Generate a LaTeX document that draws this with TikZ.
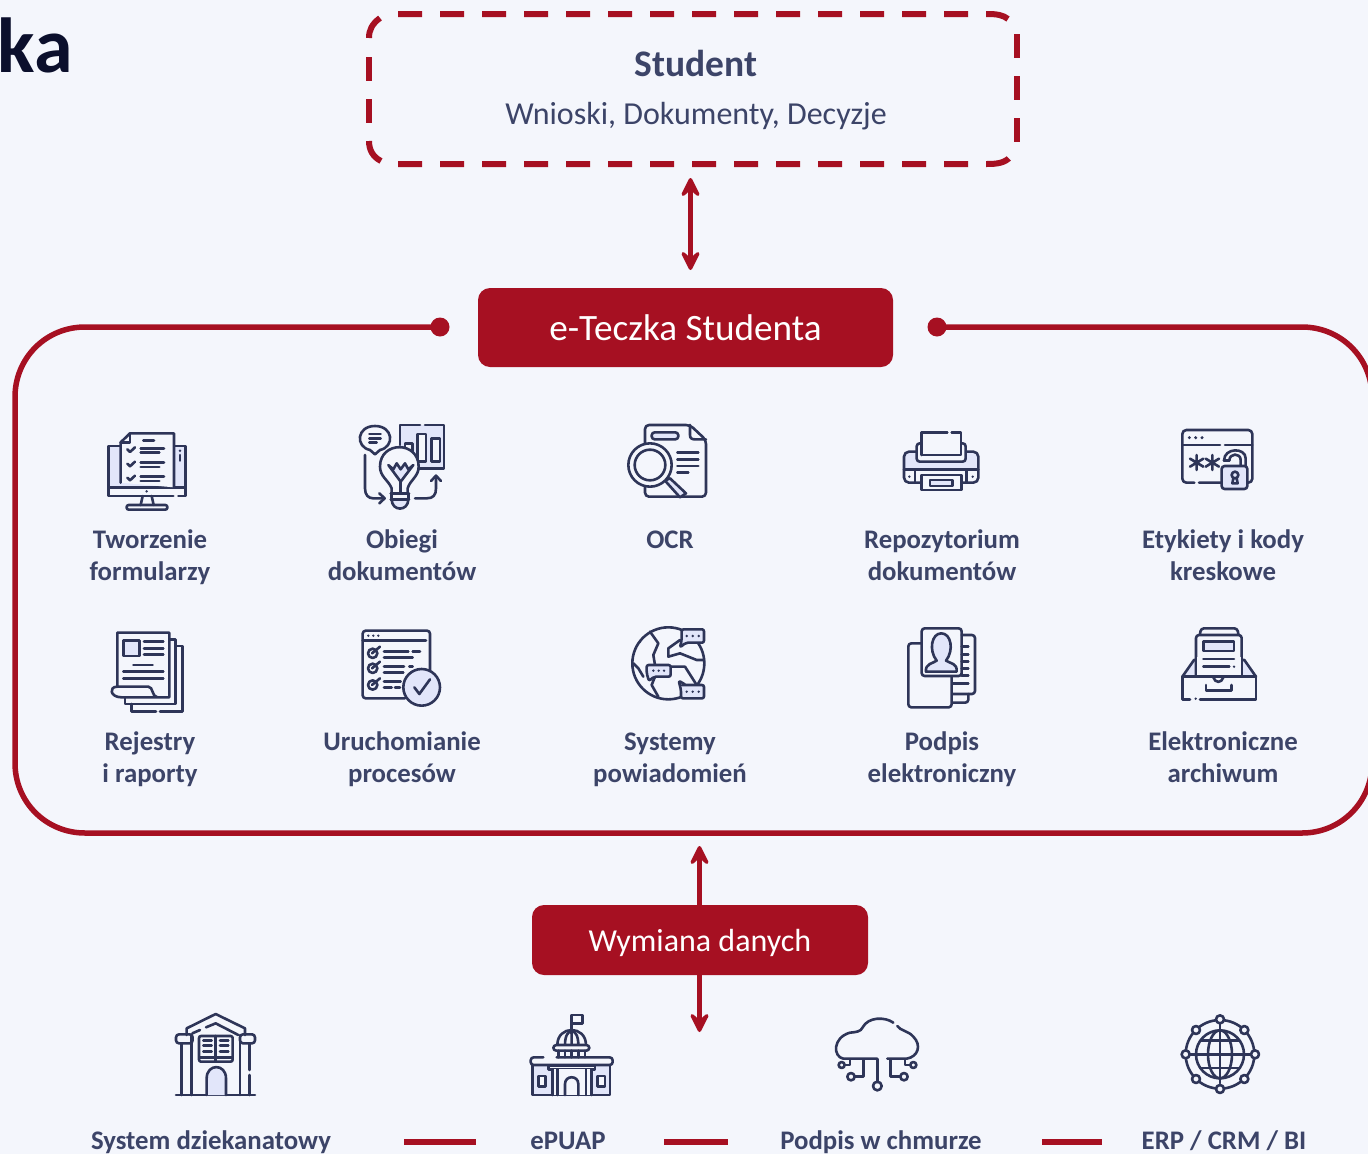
\documentclass[tikz,border=0pt]{standalone}
\usepackage{fontspec}
\setmainfont{Carlito}
\usetikzlibrary{arrows.meta}
\definecolor{bgc}{HTML}{F4F6FC}
\definecolor{redc}{HTML}{A61022}
\definecolor{txtc}{HTML}{3C4468}
\definecolor{icl}{HTML}{2E3558}
\definecolor{icf}{HTML}{E2E6FA}
\definecolor{navy}{HTML}{0B0F2C}
\tikzset{
 lbl/.style={text=txtc,font=\fontsize{26.8}{32}\selectfont\bfseries,align=center,inner sep=0pt},
 ic/.style={draw=icl,line width=2.6pt,line cap=round,line join=round},
 icb/.style={ic,fill=bgc},
 icq/.style={ic,fill=icf},
 za/.style={shift={(80,410)},scale=0.33333},
 zb/.style={shift={(600,410)},scale=0.33333},
 zc/.style={shift={(1000,410)},scale=0.33333},
 zd/.style={shift={(150,1000)},scale=0.33333},
 ze/.style={shift={(800,1000)},scale=0.33333},
 redbox/.style={fill=redc,text=white,rounded corners=12pt,inner sep=0pt},
 dbl/.style={draw=redc,line width=5pt,{Stealth[length=26pt,width=26pt,inset=12pt,round]}-{Stealth[length=26pt,width=26pt,inset=12pt,round]}},
 sgl/.style={draw=redc,line width=5pt,-{Stealth[length=26pt,width=26pt,inset=12pt,round]}},
 dashb/.style={draw=redc,line width=6pt,dash pattern=on 24pt off 18pt},
 solb/.style={draw=redc,line width=6pt},
 frame/.style={draw=redc,line width=5.5pt},
 sep/.style={draw=redc,line width=6pt},
}
\begin{document}
\begin{tikzpicture}[x=1pt,y=-1pt]
\useasboundingbox (0,0) rectangle (1368,1154);
\clip (0,0) rectangle (1368,1154);
\fill[bgc] (0,0) rectangle (1368,1154);
% title fragment
\node[anchor=base east,inner sep=0pt,text=navy,font=\fontsize{78}{78}\selectfont\bfseries] (title) at (73,72) {ka};
% student box
\draw[dashb] (398,14)--(987,14) .. controls (997,14) and (1003,15) .. (1008,19);
\draw[dashb] (1017,34)--(1017,150);
\draw[dashb] (398,164)--(987,164) .. controls (997,164) and (1005,163) .. (1010,157);
\draw[solb] (380,18) .. controls (372,24) and (369,30) .. (369,38);
\draw[dashb] (369,57)--(369,125);
\draw[solb] (369,141) .. controls (369,150) and (373,157) .. (381,161);
\node[text=txtc,font=\fontsize{37.5}{37.5}\selectfont\bfseries,inner sep=0pt] (student) at (696,63.5) {Student};
\node[text=txtc,font=\fontsize{32}{32}\selectfont,inner sep=0pt] (studentsub) at (696,116) {Wnioski, Dokumenty, Decyzje};
% central box
\node[redbox,minimum width=415pt,minimum height=79pt,font=\fontsize{37.2}{37.2}\selectfont] (teczka) at (685.5,327.5) {\raisebox{0pt}[25pt][0pt]{e-Teczka Studenta}};
\coordinate (a1) at (690.5,178);
\coordinate (a2) at (690.5,270);
\draw[dbl] (a1) -- (a2);
% frame
\coordinate (fl) at (440,327);
\coordinate (fr) at (937,327);
\draw[frame] (fl) -- (85,327) .. controls (46,327) and (15,358) .. (15,397) -- (15,763) .. controls (15,802) and (46,833) .. (85,833) -- (1302,833) .. controls (1341,833) and (1372,802) .. (1372,763) -- (1372,397) .. controls (1372,358) and (1341,327) .. (1302,327) -- (fr);
\fill[redc] (fl) circle[radius=9.5];
\fill[redc] (fr) circle[radius=9.5];
% labels
\node[lbl] (l11) at (150,558.5) {Tworzenie\strut\\formularzy\strut};
\node[lbl] (l12) at (402,558.5) {Obiegi\strut\\dokumentów\strut};
\node[lbl] (l13) at (670,558.5) {OCR\strut\\\strut};
\node[lbl] (l14) at (942,558.5) {Repozytorium\strut\\dokumentów\strut};
\node[lbl] (l15) at (1223,558.5) {Etykiety i kody\strut\\kreskowe\strut};
\node[lbl] (l21) at (150,760.5) {Rejestry\strut\\i raporty\strut};
\node[lbl] (l22) at (402,760.5) {Uruchomianie\strut\\procesów\strut};
\node[lbl] (l23) at (670,760.5) {Systemy\strut\\powiadomień\strut};
\node[lbl] (l24) at (942,760.5) {Podpis\strut\\elektroniczny\strut};
\node[lbl] (l25) at (1223,760.5) {Elektroniczne\strut\\archiwum\strut};
% exchange
\node[redbox,minimum width=336pt,minimum height=70pt,font=\fontsize{32}{32}\selectfont] (wym) at (700,940) {\raisebox{0pt}[23pt][0pt]{Wymiana danych}};
\coordinate (b1) at (699.5,846);
\coordinate (b2) at (699.5,1032);
\draw[sgl] (wym.north -| b1) -- (b1);
\draw[sgl] (wym.south -| b2) -- (b2);
% bottom labels
\node[lbl] (s1) at (211,1143.5) {System dziekanatowy\strut};
\node[lbl] (s2) at (568,1143.5) {ePUAP\strut};
\node[lbl] (s3) at (881,1143.5) {Podpis w chmurze\strut};
\node[lbl] (s4) at (1224,1143.5) {ERP / CRM / BI\strut};
\draw[sep] (404,1141.5) -- (476,1141.5);
\draw[sep] (664,1141.5) -- (728,1141.5);
\draw[sep] (1042,1141.5) -- (1102,1141.5);

% ---------- icon: monitor
\begin{scope}[za]
\fill[icf] (85,108) rectangle (317,232);
\draw[ic] (120,108)--(85,108)--(85,258)--(280,258) (295,258)--(317,258)--(317,108)--(285,108);
\draw[ic] (85,232)--(317,232);
\fill[icl] (200,244) circle[radius=4];
\draw[ic] (188,258)--(182,285) (215,258)--(221,285);
\draw[ic,rounded corners=2pt] (140,285) rectangle (262,299);
\draw[icb] (122,218)--(122,97)--(150,70)--(282,70)--(282,232);
\draw[ic] (150,72)--(150,97)--(122,97);
\draw[ic] (190,92)--(222,92);
\foreach \y in {0,43,85}{
 \draw[ic] (142,\y+118)--(150,\y+126)--(165,\y+112);
 \draw[ic] (182,\y+115)--(252,\y+115) (182,\y+128)--(238,\y+128);
}
\fill[icl] (300,122) circle[radius=4];
\draw[ic] (300,135)--(300,152);
\end{scope}
% ---------- icon: bulb
\begin{scope}[za]
\fill[icf] (960,45) rectangle (1092,175);
\draw[ic] (960,105)--(960,45)--(1020,45) (1035,45)--(1092,45)--(1092,175)--(1015,175);
\draw[icb] (1012,72) rectangle (1038,155);
\draw[icb] (1055,85) rectangle (1080,155);
\draw[icb] (975,100) rectangle (998,125);
\draw[icb] (885,133) -- (870,120) .. controls (825,110) and (830,48) .. (885,48) .. controls (940,48) and (945,110) .. (900,120) -- cycle;
\draw[ic] (868,72)--(902,72) (868,85)--(902,85) (868,98)--(890,98);
\draw[icb] (935,250) -- (935,235) .. controls (925,210) and (900,200) .. (900,170) .. controls (900,92) and (1016,92) .. (1016,170) .. controls (1016,200) and (990,210) .. (983,235) -- (983,250);
\draw[icq] (935,268) .. controls (935,305) and (985,305) .. (985,268) -- cycle;
\draw[ic] (932,250)--(987,250) (932,268)--(987,268) (935,250)--(935,268) (985,250)--(985,268);
\draw[icq] (925,165) -- (940,178) -- (950,160) -- (962,178) -- (975,160) -- (985,178) -- (1000,165) -- (962,215) -- cycle;
\draw[ic] (962,215)--(962,250);
\draw[ic] (855,135)--(855,235) .. controls (855,255) and (865,265) .. (880,265) -- (912,265);
\draw[ic] (898,250)--(914,265)--(898,280);
\draw[ic] (1005,265)--(1040,265) .. controls (1060,265) and (1068,255) .. (1068,235) -- (1068,198);
\draw[ic] (1053,213)--(1068,197)--(1083,213);
\end{scope}
% ---------- icon: registers
\begin{scope}[za]
\draw[ic] (287,708)--(308,708)--(308,905)--(240,905) (228,905)--(155,905)--(155,882);
\draw[ic] (268,688)--(287,688)--(287,882)--(135,882)--(135,865);
\draw[ic] (112,830)--(112,668)--(268,668)--(268,862)--(125,862) .. controls (90,862) and (85,830) .. (112,830) -- (205,830) .. controls (220,830) and (215,860) .. (232,862);
\draw[icq] (130,692) rectangle (178,738);
\draw[ic] (192,695)--(250,695) (192,715)--(250,715) (192,733)--(250,733) (160,765)--(218,765) (130,785)--(250,785) (130,805)--(250,805);
\end{scope}
% ---------- icon: checklist window
\begin{scope}[za]
\draw[ic,rounded corners=3pt] (1050,790)--(1050,662)--(848,662)--(848,865)--(975,865);
\draw[ic] (848,692)--(1038,692);
\foreach \x in {865,880,895}{\fill[icl] (\x,677) circle[radius=4];}
\foreach \y in {730,775,825}{
 \draw[ic] (878,\y) circle[radius=14];
 \draw[ic] (876,\y)--(900,\y-20);
}
\draw[ic] (912,725)--(985,725) (998,725)--(1020,725) (912,742)--(998,742) (912,770)--(972,770) (988,770)--(998,770) (912,787)--(970,787) (912,815)--(962,815) (912,832)--(935,832) (945,832)--(960,832);
\draw[icq] (1025,832) circle[radius=55];
\draw[ic] (1003,832)--(1018,852)--(1050,808);
\end{scope}
% ---------- icon: OCR
\begin{scope}[zb]
\draw[ic,rounded corners=4pt] (135,105)--(135,45)--(270,45)--(318,90)--(318,260)--(135,260)--(135,232);
\draw[ic] (270,45)--(270,75) .. controls (270,85) and (275,88) .. (285,88) -- (318,88);
\draw[icq,rounded corners=3pt] (155,67) rectangle (235,88);
\draw[ic] (232,128)--(295,128) (232,148)--(295,148) (232,168)--(295,168) (232,188)--(265,188);
\draw[icq] (195,212)--(210,205)--(258,250)--(240,262)--cycle;
\draw[icb] (150,165) circle[radius=65];
\draw[ic] (150,165) circle[radius=46];
\end{scope}
% ---------- icon: printer
\begin{scope}[zb]
\fill[icf,rounded corners=5pt] (912,125) rectangle (1135,190);
\fill[bgc] (914,180) rectangle (1133,216);
\draw[ic,rounded corners=5pt] (912,125) rectangle (1135,218);
\draw[ic] (912,178)--(1135,178) (945,178)--(945,218) (1100,178)--(1100,218);
\draw[icb,rounded corners=3pt] (950,100) -- (950,155) -- (1097,155) -- (1097,100) -- cycle;
\fill[bgc] (965,68) rectangle (1083,135);
\draw[ic] (965,135)--(965,68)--(1042,68) (1055,68)--(1083,68)--(1083,135)--(965,135);
\draw[icb] (965,195) rectangle (1085,240);
\draw[icq] (990,210) rectangle (1058,228);
\fill[icl] (928,200) circle[radius=4] (1118,200) circle[radius=4];
\end{scope}
% ---------- icon: world
\begin{scope}[zb]
\draw[ic] (205,760) circle[radius=108];
\draw[ic] (150,665)--(175,700)--(160,735)--(165,765);
\draw[ic] (240,690)--(205,715)--(205,740)--(240,730)--(290,750)--(312,750);
\draw[ic] (212,770)--(255,770)--(290,825)--(300,825);
\draw[ic] (165,800)--(155,825)--(175,860);
\draw[ic] (100,760)--(115,775)--(130,800);
\draw[icq,rounded corners=2pt] (245,658)--(312,658)--(312,698)--(258,698)--(240,712)--(245,690)--cycle;
\draw[icq,rounded corners=2pt] (140,765)--(212,765)--(212,800)--(162,800)--(147,813)--(140,790)--cycle;
\draw[icq,rounded corners=2pt] (243,825)--(258,825)--(236,812)--(243,840)--(243,865)--(312,865)--(312,825)--cycle;
\foreach \x/\y in {260/678,278/678,296/678,160/782,176/782,192/782,260/845,278/845,296/845}{\fill[icl] (\x,\y) circle[radius=4];}
\fill[icl] (120,695) circle[radius=4];
\end{scope}
% ---------- icon: signature document
\begin{scope}[zb]
\draw[ic,rounded corners=3pt] (965,700)--(925,700)--(925,892)--(1055,892)--(1055,800);
\draw[ic,rounded corners=3pt] (1085,675)--(1125,675)--(1125,852)--(1058,852);
\draw[ic,rounded corners=3pt] (1105,852)--(1105,878)--(1058,878);
\draw[ic,rounded corners=3pt] (965,798) rectangle (1085,655);
\foreach \y in {710,733,755,775,797}{\draw[ic] (1085,\y)--(1105,\y);}
\draw[ic] (1058,820)--(1105,820);
\draw[icq] (978,785) .. controls (975,760) and (1000,760) .. (1010,752) .. controls (985,720) and (995,670) .. (1024,670) .. controls (1053,670) and (1063,720) .. (1038,752) .. controls (1050,760) and (1073,760) .. (1070,785) -- cycle;
\end{scope}
% ---------- icon: lock window
\begin{scope}[zc]
\draw[ic,rounded corners=4pt] (665,218)--(597,218) (583,218)--(547,218)--(547,60)--(757,60)--(757,218)--(745,218);
\draw[ic] (547,105)--(660,105) (675,105)--(757,105);
\foreach \x in {568,587,606}{\fill[icl] (\x,83) circle[radius=5];}
\foreach \x in {590,637}{
 \draw[ic] (\x,135)--(\x,180) (\x-20,146)--(\x+20,170) (\x-20,170)--(\x+20,146);
}
\draw[ic] (672,152) .. controls (672,112) and (737,112) .. (737,145) -- (737,168);
\draw[ic] (688,152) .. controls (688,128) and (722,128) .. (722,150) -- (722,168);
\draw[ic] (672,152)--(688,152);
\draw[icq,rounded corners=3pt] (665,168) rectangle (742,237);
\draw[ic] (705,195) circle[radius=10];
\draw[ic] (700,205)--(697,220)--(713,220)--(710,205);
\end{scope}
% ---------- icon: archive
\begin{scope}[zc]
\draw[icq] (547,800)--(582,750)--(733,750)--(768,800)--cycle;
\draw[icb,rounded corners=3pt] (588,800)--(588,675)--(725,675)--(725,800);
\fill[bgc] (590,740) rectangle (723,800);
\draw[ic,rounded corners=3pt] (600,672)--(603,655)--(712,655)--(715,672);
\draw[icq] (610,695) rectangle (702,723);
\draw[ic] (610,747)--(702,747) (610,770)--(688,770);
\fill[icl] (702,770) circle[radius=4];
\draw[ic] (547,800)--(768,800)--(768,868)--(600,868) (570,868)--(547,868)--(547,800);
\fill[icl] (587,866) circle[radius=4];
\draw[ic] (640,802) .. controls (645,820) and (665,820) .. (670,802);
\draw[ic] (618,825)--(618,842)--(695,842)--(695,825);
\end{scope}
% ---------- icon: library
\begin{scope}[zd]
\draw[ic] (110,105)--(110,85)--(197,42)--(285,85)--(285,105);
\draw[ic] (127,100)--(150,90) (168,82)--(197,70)--(265,105);
\draw[ic] (78,285)--(315,285);
\draw[ic] (95,130)--(95,285) (125,105)--(125,285) (270,105)--(270,285) (298,130)--(298,210) (298,225)--(298,285);
\draw[ic,rounded corners=3pt] (78,103) rectangle (128,130);
\draw[ic,rounded corners=3pt] (270,103) rectangle (315,130);
\draw[ic,rounded corners=2pt] (147,108) rectangle (248,185);
\draw[ic] (197,108)--(197,185) (150,172)--(245,172);
\foreach \y in {122,137,155}{\draw[ic] (160,\y)--(185,\y) (210,\y)--(235,\y);}
\draw[icq] (170,285)--(170,235) .. controls (170,190) and (228,190) .. (228,235) -- (228,285);
\end{scope}
% ---------- icon: government building
\begin{scope}[zd]
\draw[ic] (1265,100)--(1265,45)--(1298,45)--(1298,70)--(1265,70);
\draw[ic] (1222,135) .. controls (1222,75) and (1308,75) .. (1308,135);
\draw[ic] (1245,135) .. controls (1245,105) and (1255,95) .. (1265,92) .. controls (1275,95) and (1285,105) .. (1285,135) (1265,92)--(1265,135);
\draw[icb,rounded corners=3pt] (1210,135) rectangle (1318,152);
\foreach \x in {1225,1245,1265,1285,1305}{\draw[ic] (\x,152)--(\x,172);}
\fill[icf] (1148,195) rectangle (1380,285);
\draw[ic] (1148,195)--(1148,285)--(1380,285)--(1380,195);
\draw[ic,rounded corners=3pt] (1180,172)--(1142,172)--(1142,195)--(1388,195)--(1388,172)--(1220,172);
\draw[ic,fill=bgc] (1195,197) rectangle (1335,208);
\fill[bgc] (1207,208) rectangle (1325,284);
\draw[ic] (1207,208)--(1207,285) (1222,208)--(1222,285) (1308,208)--(1308,285) (1325,208)--(1325,285);
\draw[ic] (1245,285)--(1245,252) .. controls (1245,225) and (1285,225) .. (1285,252) -- (1285,285);
\draw[icb] (1165,228) rectangle (1187,260);
\draw[icb] (1342,228) rectangle (1365,260);
\end{scope}
% ---------- icon: cloud
\begin{scope}[ze]
\draw[ic] (232,176)--(130,176) .. controls (98,170) and (98,112) .. (150,98) .. controls (170,96) and (182,95) .. (188,82) .. controls (205,50) and (255,50) .. (280,68);
\draw[ic] (292,78) .. controls (300,92) and (325,92) .. (340,110) .. controls (365,135) and (355,170) .. (320,176) -- (262,176);
\draw[ic] (150,178)--(150,195)--(135,195);
\draw[ic] (125,195) circle[radius=9];
\draw[ic] (190,178)--(190,230)--(165,230);
\draw[ic] (153,230) circle[radius=11];
\draw[ic] (232,178)--(232,246);
\draw[ic] (232,258) circle[radius=13];
\draw[ic] (272,178)--(272,230)--(300,230);
\draw[ic] (312,230) circle[radius=11];
\draw[ic] (315,178)--(315,195)--(330,195);
\draw[ic] (340,195) circle[radius=9];
\end{scope}
% ---------- icon: network globe
\begin{scope}[ze]
\draw[ic] (1260,163) circle[radius=103];
\draw[ic] (1260,163) circle[radius=72];
\draw[ic] (1260,163) ellipse[x radius=36,y radius=72];
\draw[ic] (1260,70)--(1260,250);
\draw[ic] (1165,163)--(1355,163) (1202,122)--(1318,122) (1202,204)--(1318,204);
\foreach \x/\y in {1260/58,1333/90,1365/163,1333/237,1260/267,1188/237,1157/163,1188/90}{\draw[icb] (\x,\y) circle[radius=12];}
\end{scope}
\end{tikzpicture}
\end{document}
